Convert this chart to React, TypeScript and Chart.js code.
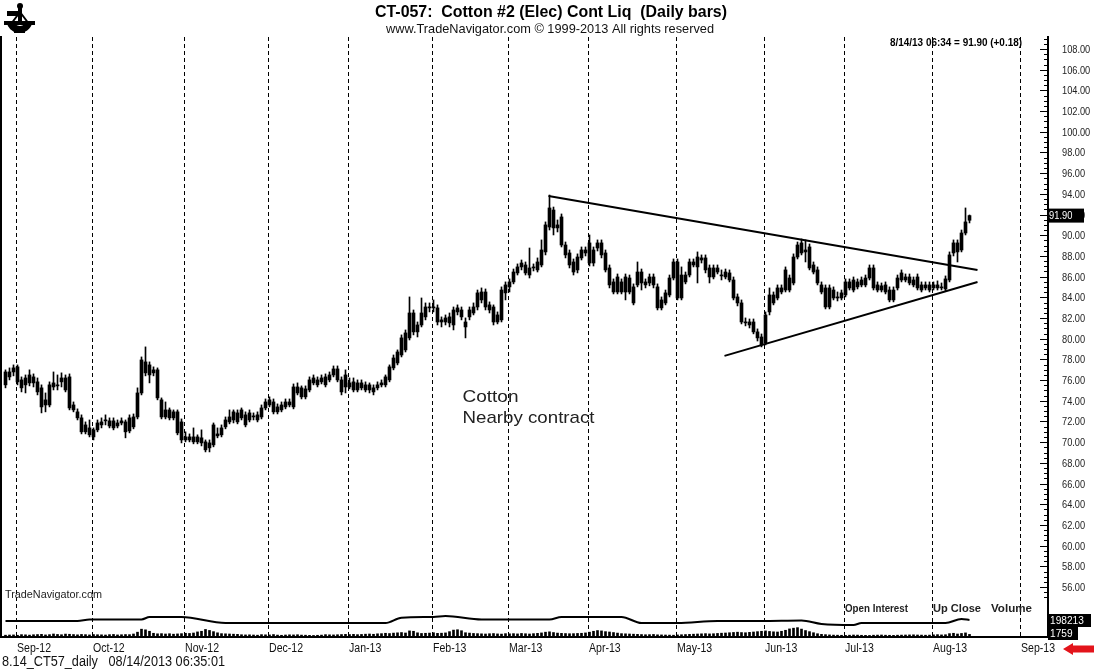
import React, { useEffect, useRef } from "react";
import { Chart, registerables } from "chart.js";

Chart.register(...registerables);

// ---------- DATA ----------
const OPEN = [
  75.54, 76.31, 76.79, 77.28, 76.02, 75.54, 75.73, 76.31, 75.83, 75.25,
  73.60, 73.60, 75.34, 75.44, 75.83, 76.21, 76.31, 73.60, 72.93, 72.35,
  71.67, 71.38, 70.51, 71.19, 71.67, 72.06, 72.06, 71.38, 71.86, 71.86,
  71.96, 71.09, 71.48, 72.44, 74.76, 77.76, 76.50, 76.99, 76.99, 74.09,
  72.44, 73.12, 72.35, 72.93, 71.96, 70.22, 70.51, 70.03, 70.51, 69.93,
  70.03, 69.45, 69.74, 70.80, 70.71, 71.48, 71.96, 72.15, 72.83, 72.35,
  72.64, 72.15, 72.54, 72.15, 72.44, 73.31, 73.60, 73.89, 72.93, 73.12,
  73.41, 73.89, 73.41, 75.34, 75.25, 74.38, 75.05, 75.73, 76.02, 75.83,
  75.54, 76.02, 76.50, 77.08, 76.02, 75.34, 75.73, 75.05, 75.73, 75.25,
  75.54, 75.05, 75.25, 75.25, 75.54, 75.54, 76.02, 77.18, 77.66, 78.43,
  78.92, 80.08, 82.49, 80.66, 81.33, 82.11, 83.07, 82.98, 82.98, 81.62,
  82.01, 81.53, 81.33, 82.59, 82.78, 81.62, 82.11, 82.49, 83.07, 83.75,
  84.52, 83.27, 83.07, 81.62, 81.82, 84.43, 85.01, 85.49, 86.36, 86.94,
  87.13, 86.16, 86.84, 86.65, 87.13, 88.39, 90.80, 92.44, 90.71, 91.77,
  89.06, 88.29, 87.42, 86.65, 87.81, 88.58, 87.32, 88.58, 88.77, 89.26,
  88.29, 86.84, 85.49, 84.52, 85.49, 84.52, 85.87, 85.01, 85.20, 86.45,
  85.20, 85.39, 85.97, 85.01, 82.98, 83.46, 84.23, 85.87, 87.42, 83.94,
  86.16, 86.16, 87.13, 86.94, 87.81, 87.81, 86.84, 85.97, 86.84, 86.16,
  85.97, 86.36, 85.68, 84.04, 83.46, 81.62, 81.33, 81.62, 80.66, 80.17,
  79.59, 82.59, 84.23, 83.94, 84.91, 84.71, 85.87, 85.39, 87.90, 88.29,
  88.58, 88.87, 87.13, 86.65, 85.20, 84.91, 83.07, 84.71, 83.94, 83.94,
  84.23, 85.49, 84.71, 85.49, 85.20, 85.20, 85.87, 86.84, 85.20, 84.71,
  85.20, 84.71, 83.75, 84.91, 85.68, 85.97, 85.39, 85.68, 84.91, 85.20,
  84.91, 85.20, 84.91, 85.20, 84.91, 84.81, 85.68, 88.29, 89.26, 88.58,
  90.22, 91.45,
];
const HIGH = [
  76.99, 77.18, 77.47, 77.47, 76.31, 76.50, 76.99, 76.60, 76.21, 75.54,
  74.76, 75.83, 76.79, 76.50, 76.70, 76.50, 76.60, 73.89, 73.22, 72.64,
  71.96, 72.15, 71.38, 72.15, 72.35, 72.64, 72.35, 72.35, 72.15, 72.35,
  72.15, 72.64, 72.73, 75.25, 78.24, 79.21, 77.76, 77.28, 77.18, 74.28,
  73.89, 73.31, 73.12, 73.12, 72.25, 71.00, 70.80, 71.38, 70.71, 71.19,
  70.22, 70.22, 71.86, 71.38, 71.67, 72.44, 73.12, 73.12, 73.12, 73.31,
  72.93, 73.12, 72.83, 72.93, 73.60, 74.18, 74.38, 74.18, 73.70, 73.89,
  74.18, 74.18, 75.63, 75.73, 75.44, 75.44, 76.31, 76.50, 76.31, 76.50,
  76.60, 76.79, 77.37, 77.37, 76.31, 76.99, 76.21, 76.21, 76.02, 76.02,
  75.83, 75.73, 75.54, 75.83, 76.02, 76.50, 77.47, 78.43, 78.92, 80.37,
  80.85, 84.04, 82.78, 81.62, 83.94, 83.46, 83.46, 83.75, 83.27, 82.11,
  82.30, 82.49, 83.07, 83.27, 83.07, 82.01, 83.07, 83.46, 84.71, 84.91,
  84.81, 83.56, 83.27, 82.59, 85.01, 85.49, 85.78, 86.74, 87.23, 87.61,
  87.42, 88.77, 87.23, 87.81, 89.55, 91.29, 93.89, 92.73, 91.48, 92.06,
  89.35, 88.58, 87.71, 88.20, 88.87, 88.87, 90.03, 88.87, 89.55, 89.55,
  88.58, 87.13, 85.78, 86.26, 85.78, 86.26, 86.16, 85.30, 87.42, 86.74,
  85.78, 86.26, 86.26, 85.30, 84.04, 84.71, 86.16, 87.71, 87.71, 86.94,
  86.45, 87.71, 87.71, 88.39, 88.10, 88.10, 87.13, 87.13, 87.13, 86.65,
  86.74, 86.65, 85.97, 84.33, 83.75, 82.01, 81.91, 81.91, 80.95, 80.46,
  82.59, 84.91, 84.52, 85.20, 85.20, 86.94, 86.16, 88.20, 89.35, 89.64,
  89.55, 89.16, 87.42, 86.94, 85.49, 85.20, 85.20, 85.01, 84.52, 84.71,
  85.78, 85.78, 85.97, 85.78, 85.97, 86.16, 87.13, 87.13, 85.49, 85.39,
  85.49, 85.01, 85.01, 86.16, 86.65, 86.26, 86.26, 85.97, 86.26, 85.49,
  85.49, 85.49, 85.49, 85.59, 85.39, 86.07, 88.39, 89.55, 89.55, 90.51,
  92.64, 91.96,
];
const LOW = [
  75.25, 76.02, 76.41, 75.54, 74.86, 74.76, 75.44, 75.34, 74.57, 72.83,
  72.93, 73.41, 75.05, 75.05, 75.34, 74.86, 73.12, 72.93, 72.15, 70.80,
  70.80, 70.51, 70.22, 71.00, 71.38, 71.67, 71.38, 71.19, 71.38, 71.67,
  70.42, 70.90, 71.29, 72.25, 74.57, 76.41, 75.73, 76.41, 74.09, 72.25,
  72.25, 72.15, 72.15, 70.71, 69.93, 70.03, 70.03, 69.84, 69.84, 69.64,
  69.06, 69.06, 69.55, 70.42, 70.51, 71.29, 71.77, 71.86, 71.77, 72.15,
  71.48, 71.96, 72.15, 71.96, 72.25, 73.12, 73.41, 72.73, 72.73, 72.93,
  73.22, 73.41, 73.22, 74.57, 74.18, 74.18, 74.86, 75.54, 75.34, 75.63,
  75.34, 75.83, 76.31, 75.83, 74.57, 74.76, 75.15, 74.86, 74.86, 75.05,
  74.86, 74.76, 74.57, 75.05, 75.34, 75.34, 75.83, 76.99, 77.47, 78.24,
  78.72, 79.88, 80.37, 80.17, 81.14, 81.82, 82.59, 82.59, 81.33, 81.14,
  81.33, 81.14, 80.85, 82.30, 81.82, 80.08, 81.82, 82.30, 82.78, 83.46,
  82.78, 82.49, 81.33, 81.43, 81.62, 83.75, 84.52, 85.30, 86.16, 86.65,
  86.16, 85.87, 86.55, 86.45, 86.94, 88.10, 90.51, 90.03, 90.32, 88.87,
  87.81, 86.84, 86.16, 86.36, 87.61, 88.00, 87.03, 87.03, 88.48, 87.81,
  86.45, 84.91, 84.33, 84.33, 84.33, 83.75, 84.33, 83.27, 85.01, 84.71,
  84.91, 85.11, 84.91, 82.78, 82.78, 83.27, 84.04, 85.68, 83.75, 83.75,
  85.30, 85.97, 86.94, 85.39, 87.32, 86.36, 85.39, 85.78, 86.26, 85.68,
  85.78, 85.49, 83.75, 83.17, 81.43, 81.24, 81.04, 80.47, 79.78, 79.21,
  79.40, 82.30, 83.27, 83.75, 84.33, 84.52, 84.52, 85.20, 87.71, 88.10,
  87.42, 86.65, 86.26, 85.20, 84.33, 82.88, 82.88, 83.75, 83.65, 83.75,
  84.04, 84.71, 84.52, 84.81, 85.01, 85.01, 85.68, 84.71, 84.52, 84.52,
  84.33, 83.56, 83.56, 84.71, 85.49, 85.49, 85.20, 85.01, 84.71, 84.52,
  84.71, 84.52, 84.71, 84.71, 84.71, 84.62, 85.49, 88.00, 87.42, 88.39,
  90.03, 91.19,
];
const CLOSE = [
  76.79, 76.79, 77.18, 75.83, 75.25, 76.21, 76.50, 75.73, 74.86, 73.41,
  74.09, 75.54, 75.73, 75.54, 76.21, 75.05, 73.31, 73.12, 72.35, 71.00,
  71.00, 70.71, 71.19, 71.86, 71.96, 72.15, 71.57, 72.06, 71.57, 72.06,
  71.00, 72.35, 72.44, 74.76, 77.95, 76.70, 77.47, 76.70, 74.28, 72.44,
  73.12, 72.35, 72.93, 70.90, 70.22, 70.51, 70.22, 70.51, 70.03, 70.42,
  69.26, 69.93, 71.67, 70.61, 71.38, 72.15, 72.44, 72.93, 71.96, 73.12,
  71.67, 72.83, 72.44, 72.64, 73.31, 73.89, 74.09, 72.93, 73.41, 73.60,
  73.89, 73.60, 75.34, 74.76, 74.38, 75.15, 76.02, 76.21, 75.54, 76.21,
  76.31, 76.50, 77.08, 76.02, 74.86, 76.50, 75.34, 75.83, 75.05, 75.73,
  75.05, 75.54, 74.86, 75.54, 75.73, 76.31, 77.28, 78.14, 78.72, 80.08,
  80.56, 82.49, 80.66, 81.33, 82.49, 83.07, 82.98, 83.07, 81.62, 81.82,
  81.62, 82.11, 82.78, 82.98, 82.11, 81.14, 82.78, 83.07, 84.43, 84.52,
  83.07, 82.78, 81.62, 82.30, 84.71, 85.20, 85.49, 86.45, 86.94, 87.32,
  86.36, 86.84, 86.94, 87.42, 88.58, 91.00, 92.64, 90.71, 91.00, 89.06,
  88.10, 87.13, 86.45, 87.90, 88.58, 88.29, 89.26, 87.32, 89.26, 88.10,
  86.65, 85.20, 84.52, 85.97, 84.52, 85.97, 84.52, 83.46, 86.45, 85.39,
  85.49, 85.97, 85.20, 82.98, 83.75, 84.43, 85.87, 87.42, 83.94, 86.16,
  85.49, 87.42, 87.42, 87.90, 87.61, 86.65, 85.97, 86.84, 86.45, 86.07,
  86.45, 85.68, 83.94, 83.46, 81.62, 81.53, 81.62, 80.66, 80.08, 79.40,
  82.30, 84.23, 83.46, 84.91, 84.52, 86.65, 84.71, 87.90, 89.06, 89.26,
  88.39, 86.84, 86.45, 85.39, 84.52, 83.07, 84.91, 83.94, 84.04, 84.43,
  85.49, 84.91, 85.68, 85.01, 85.68, 85.87, 86.84, 84.91, 84.71, 85.11,
  84.52, 83.75, 84.71, 85.87, 86.36, 85.68, 85.97, 85.20, 85.97, 84.71,
  85.20, 84.71, 85.20, 84.91, 85.01, 85.78, 88.10, 89.26, 88.39, 90.22,
  91.29, 91.90,
];
const VOLUME = [
  900, 1100, 1200, 800, 1500, 1300, 1000, 1400, 1600,
  1800, 1200, 1500, 2200, 1700, 1400, 2100, 1900, 1600,
  1300, 1700, 1500, 1200, 1600, 1400, 1300, 1100, 1500, 1700, 1200, 1400, 1600, 1500, 2200,
  4200, 7500, 6800, 5200, 3000, 2400,
  2600, 2200, 2500, 2000, 2300,
  2600, 3000, 2800, 3300, 4500, 5200, 7200, 6100, 4800, 3500, 2600, 2400, 2200, 2000, 1800,
  1400, 1200, 1300, 1100, 900, 1500, 1300, 1200, 1600, 1000, 800, 1100, 1300, 1200, 1400, 1000, 900, 700, 600, 800, 1000, 1500, 1300, 1200, 1400, 1600, 1800,
  1600, 1800, 1500, 1700, 2000, 2200, 1900, 2400, 2600, 3000, 2700, 3200, 3500, 3800, 3300, 5600, 5200, 3500, 2800, 3000,
  3200, 3600, 2900, 3100, 3400, 4800, 6500, 6900, 5800, 3600, 3200, 2800, 2600, 2400, 2200, 2500, 2700, 2300, 2100, 2600,
  2400, 2600, 2300, 2800, 2500, 2200, 2600, 2900, 3400, 4200, 4600, 3800, 3200, 2900, 2700, 2500, 2600, 2800, 3000, 3400, 4200, 5200, 6000, 5600, 4800,
  4400, 3800, 3200, 2600, 2400, 2200, 2000, 1800, 1600, 1400, 1500, 1700, 1300, 1200, 1100, 1000, 900, 1200, 1400, 1600, 1800, 2000, 2200, 2400, 2600,
  2300, 2500, 2800, 3100, 3300, 3600, 3900, 4200, 3800, 3600, 4000, 4400, 4800, 5200, 5600, 5000, 4600, 4400, 5200, 6300, 7800, 8600, 9200, 7600, 6000, 4800, 3600, 2500, 1800, 1500,
  1200, 1000, 900, 800, 700, 900, 1100, 1000, 800, 700, 600, 900, 1000, 1100, 900, 800, 700, 900, 1000, 1100, 1200, 1300, 1100, 1000, 900, 1000,
  1300, 1500, 1200, 1400, 2600, 3000, 2200, 2800, 3400, 1759,
];
// Open interest (bar index -> contracts)
const OI_INDEX = [0, 18, 21, 34, 36, 44, 55, 95, 99, 107, 110, 119, 136, 139, 154, 159, 168, 178, 189, 199, 204, 212, 214, 235, 239, 241];
const OI_VALUE = [195700, 195700, 199500, 199500, 205700, 205700, 190700, 190700, 204000, 205700, 208200, 199500, 199500, 205700, 205700, 190700, 190700, 195700, 195700, 197000, 188200, 185700, 190700, 190700, 200700, 198213];

// Month boundaries (bar index) and labels
const MONTH_TICKS = [2.5, 21.5, 44.5, 65.5, 85.5, 106.5, 125.5, 145.5, 167.5, 189.5, 209.5, 231.5, 253.5];
const MONTH_LABELS = ["Sep-12", "Oct-12", "Nov-12", "Dec-12", "Jan-13", "Feb-13", "Mar-13", "Apr-13", "May-13", "Jun-13", "Jul-13", "Aug-13", "Sep-13"];
const PRICE_TICKS = [108, 106, 104, 102, 100, 98, 96, 94, 92, 90, 88, 86, 84, 82, 80, 78, 76, 74, 72, 70, 68, 66, 64, 62, 60, 58, 56];

// Trendlines (bar index, price)
const UPPER_TREND = [{ x: 135.75, y: 93.8 }, { x: 243, y: 86.65 }];
const LOWER_TREND = [{ x: 179.75, y: 78.34 }, { x: 243, y: 85.49 }];

const LAST_PRICE = 91.9;
const LAST_OI = 198213;
const LAST_VOLUME = 1759;

// ---------- helpers ----------
const FONT = "'Liberation Sans', Arial, sans-serif";

function drawText(
  ctx: CanvasRenderingContext2D,
  s: string,
  x: number,
  y: number,
  font: string,
  opts: { sx?: number; fit?: number; align?: string; color?: string } = {}
) {
  ctx.save();
  ctx.font = font;
  ctx.fillStyle = opts.color || "#000";
  ctx.textBaseline = "middle";
  ctx.textAlign = "left";
  const mw = ctx.measureText(s).width;
  const sc = opts.fit ? opts.fit / mw : opts.sx ?? 1;
  const w = mw * sc;
  let x0 = x;
  if (opts.align === "center") x0 = x - w / 2;
  else if (opts.align === "right") x0 = x - w;
  ctx.translate(x0, y);
  ctx.scale(sc, 1);
  ctx.fillText(s, 0, 0);
  ctx.restore();
  return w;
}

const decorPlugin = {
  id: "decor",
  beforeDraw(chart: any) {
    const ctx = chart.ctx;
    ctx.save();
    ctx.fillStyle = "#fff";
    ctx.fillRect(0, 0, chart.width, chart.height);
    ctx.restore();
  },
  beforeDatasetsDraw(chart: any) {
    const ctx: CanvasRenderingContext2D = chart.ctx;
    const { top, bottom } = chart.chartArea;
    const xs = chart.scales.x;
    ctx.save();
    ctx.strokeStyle = "#000";
    ctx.lineWidth = 1;
    ctx.setLineDash([4, 3]);
    MONTH_TICKS.forEach((v) => {
      const px = Math.round(xs.getPixelForValue(v)) + 0.5;
      ctx.beginPath();
      ctx.moveTo(px, top + 1);
      ctx.lineTo(px, bottom);
      ctx.stroke();
    });
    ctx.restore();
  },
  afterDatasetsDraw(chart: any) {
    const ctx: CanvasRenderingContext2D = chart.ctx;
    const { right, top, bottom } = chart.chartArea;
    const xs = chart.scales.x;
    const ys = chart.scales.y;
    const yoi = chart.scales.yoi;

    ctx.save();
    ctx.strokeStyle = "#000";
    ctx.fillStyle = "#000";
    // right axis line
    ctx.fillRect(right - 1, top, 2, bottom - top + 1);
    // left border
    ctx.fillRect(0, top, 2, bottom - top + 1);
    // bottom axis line
    ctx.fillRect(0, bottom - 1, right + 1, 2);

    // minor ticks
    ctx.lineWidth = 1;
    for (let v = 55; v <= 109.01; v += 0.5) {
      const py = Math.round(ys.getPixelForValue(v)) + 0.5;
      ctx.beginPath();
      ctx.moveTo(right - 4, py);
      ctx.lineTo(right, py);
      ctx.stroke();
    }
    // major ticks + labels
    PRICE_TICKS.forEach((v) => {
      const py = Math.round(ys.getPixelForValue(v)) + 0.5;
      ctx.beginPath();
      ctx.moveTo(right - 8, py);
      ctx.lineTo(right, py);
      ctx.stroke();
      drawText(ctx, v.toFixed(2), right + 14, py, `11px ${FONT}`, { sx: 0.84, color: "#222" });
    });

    // month labels
    MONTH_TICKS.forEach((v, i) => {
      const px = Math.round(xs.getPixelForValue(v));
      drawText(ctx, MONTH_LABELS[i], px + 1, bottom + 12, `12px ${FONT}`, { sx: 0.88, color: "#111" });
    });

    // last price box
    const lp = ys.getPixelForValue(LAST_PRICE);
    ctx.fillStyle = "#000";
    ctx.fillRect(right - 1, lp - 7, 37, 14);
    drawText(ctx, LAST_PRICE.toFixed(2), right + 1, lp, `11px ${FONT}`, { sx: 0.85, color: "#fff" });

    // OI / volume boxes
    const op = yoi.getPixelForValue(LAST_OI);
    ctx.fillStyle = "#000";
    ctx.fillRect(right, op - 6, 43, 13);
    drawText(ctx, String(LAST_OI), right + 2, op + 0.5, `11px ${FONT}`, { sx: 0.92, color: "#fff" });
    ctx.fillStyle = "#000";
    ctx.fillRect(right, op + 7, 30, 13);
    drawText(ctx, String(LAST_VOLUME), right + 2, op + 13.5, `11px ${FONT}`, { sx: 0.92, color: "#fff" });

    // red arrow
    ctx.fillStyle = "#e3141b";
    ctx.beginPath();
    ctx.moveTo(1063, 649);
    ctx.lineTo(1073, 643);
    ctx.lineTo(1073, 645.5);
    ctx.lineTo(1094, 645.5);
    ctx.lineTo(1094, 652.5);
    ctx.lineTo(1073, 652.5);
    ctx.lineTo(1073, 655);
    ctx.closePath();
    ctx.fill();

    // titles
    drawText(ctx, "CT-057:  Cotton #2 (Elec) Cont Liq  (Daily bars)", 375, 12, `bold 17px ${FONT}`, { fit: 352 });
    drawText(ctx, "www.TradeNavigator.com \u00A9 1999-2013 All rights reserved", 386, 29, `13px ${FONT}`, { fit: 328, color: "#111" });
    drawText(ctx, "8/14/13 06:34 = 91.90 (+0.18)", 890, 43, `bold 11px ${FONT}`, { fit: 132 });

    // annotation
    drawText(ctx, "Cotton", xs.getPixelForValue(114.25), ys.getPixelForValue(74.37), `17px ${FONT}`, { fit: 56, color: "#222" });
    drawText(ctx, "Nearby contract", xs.getPixelForValue(114.25), ys.getPixelForValue(72.34), `17px ${FONT}`, { fit: 132, color: "#222" });

    // lower panel texts
    drawText(ctx, "TradeNavigator.com", 5, 595, `11px ${FONT}`, { fit: 97, color: "#222" });
    drawText(ctx, "Open Interest", 845, 609, `bold 11px ${FONT}`, { fit: 63, color: "#222" });
    drawText(ctx, "Up Close", 933, 609, `bold 11px ${FONT}`, { fit: 48, color: "#222" });
    drawText(ctx, "Volume", 991, 609, `bold 11px ${FONT}`, { fit: 41, color: "#222" });

    // footer
    drawText(ctx, "8.14_CT57_daily   08/14/2013 06:35:01", 2, 662, `14px ${FONT}`, { fit: 223, color: "#111" });

    // sextant logo
    ctx.fillStyle = "#000";
    ctx.strokeStyle = "#000";
    ctx.beginPath();
    ctx.arc(20, 6, 3, 0, Math.PI * 2);
    ctx.fill();
    ctx.fillRect(18, 7, 4, 16);
    ctx.fillRect(7, 11, 15, 5);
    ctx.lineWidth = 2;
    ctx.beginPath();
    ctx.moveTo(20, 12);
    ctx.lineTo(11, 24);
    ctx.moveTo(20, 12);
    ctx.lineTo(29, 24);
    ctx.stroke();
    ctx.fillRect(4, 21, 31, 4);
    ctx.beginPath();
    ctx.arc(19.5, 20, 13, 0.05 * Math.PI, 0.95 * Math.PI);
    ctx.arc(19.5, 20, 6, 0.95 * Math.PI, 0.05 * Math.PI, true);
    ctx.closePath();
    ctx.fill();
    ctx.fillRect(14, 29, 11, 4);

    ctx.restore();
  },
};

export default function App() {
  const ref = useRef<HTMLCanvasElement | null>(null);

  useEffect(() => {
    if (!ref.current) return;
    const idx = CLOSE.map((_, i) => i);
    const wicks = idx.map((i) => ({ x: i, y: [LOW[i], HIGH[i]] }));
    const bodies = idx.map((i) => ({ x: i, y: [Math.min(OPEN[i], CLOSE[i]), Math.max(OPEN[i], CLOSE[i])] }));
    const vols = idx.map((i) => ({ x: i, y: VOLUME[i] }));
    const oi = OI_INDEX.map((x, i) => ({ x, y: OI_VALUE[i] }));

    const chart = new Chart(ref.current, {
      type: "bar",
      data: {
        datasets: [
          {
            type: "line",
            data: UPPER_TREND,
            borderColor: "#000",
            borderWidth: 2,
            pointRadius: 0,
            yAxisID: "y",
            xAxisID: "x",
          } as any,
          {
            type: "line",
            data: LOWER_TREND,
            borderColor: "#000",
            borderWidth: 2,
            pointRadius: 0,
            yAxisID: "y",
            xAxisID: "x",
          } as any,
          {
            type: "line",
            data: oi,
            borderColor: "#000",
            borderWidth: 2,
            pointRadius: 0,
            cubicInterpolationMode: "monotone",
            yAxisID: "yoi",
            xAxisID: "x",
          } as any,
          {
            data: wicks,
            backgroundColor: "#000",
            borderWidth: 0,
            barThickness: 1,
            grouped: false,
            yAxisID: "y",
            xAxisID: "x",
          } as any,
          {
            data: bodies,
            backgroundColor: "#000",
            borderWidth: 0,
            barThickness: 3,
            minBarLength: 1,
            grouped: false,
            yAxisID: "y",
            xAxisID: "x",
          } as any,
          {
            data: vols,
            backgroundColor: "#000",
            borderWidth: 0,
            barThickness: 2,
            grouped: false,
            yAxisID: "yvol",
            xAxisID: "x",
          } as any,
        ],
      },
      options: {
        animation: false,
        responsive: false,
        devicePixelRatio: 1,
        events: [],
        layout: { padding: { left: 2, right: 52, top: 36, bottom: 33 } },
        plugins: { legend: { display: false }, tooltip: { enabled: false } },
        scales: {
          x: { type: "linear", min: -0.875, max: 260.625, offset: false, display: false, grid: { offset: false } },
          y: { type: "linear", min: 51.17, max: 109.26, display: false },
          yoi: { type: "linear", axis: "y", min: 155713, max: 1658213, display: false },
          yvol: { type: "linear", axis: "y", min: -1100, max: 660000, display: false },
        },
      } as any,
      plugins: [decorPlugin as any],
    });
    return () => chart.destroy();
  }, []);

  return (
    <div style={{ position: "fixed", left: 0, top: 0, width: 1100, height: 670, background: "#fff" }}>
      <canvas ref={ref} width={1100} height={670} style={{ display: "block", width: 1100, height: 670 }} />
    </div>
  );
}
